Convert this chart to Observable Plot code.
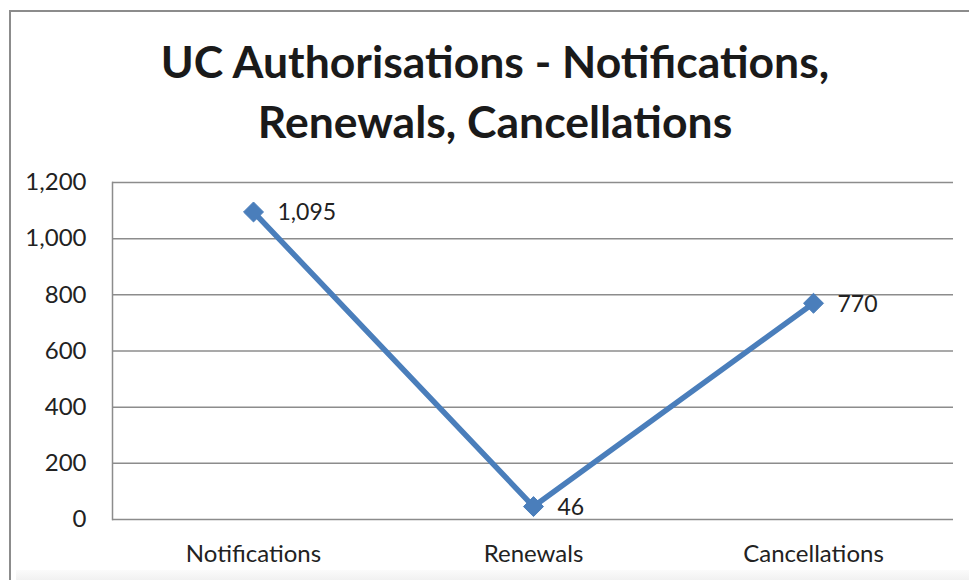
<!DOCTYPE html>
<html>
<head>
<meta charset="utf-8">
<script src="https://cdn.jsdelivr.net/npm/d3@7"></script>
<script src="https://cdn.jsdelivr.net/npm/@observablehq/plot@0.6"></script>
<style>
  body { margin: 0; background: #fff; }
  #wrap { position: relative; width: 969px; height: 580px; overflow: hidden; background: #fff; font-family: Lato, "Open Sans", sans-serif; }
  #border { position: absolute; left: 9px; top: 10px; width: 1000px; height: 600px; border-left: 2px solid #8c8c8c; border-top: 2px solid #8c8c8c; box-sizing: border-box; }
  #title { position: absolute; left: 0; top: 31px; width: 990px; text-align: center; font-weight: 700; font-size: 44.5px; line-height: 60px; color: #1a1a1a; }
  #chart { position: absolute; left: 0; top: 160px; }
  #shade { position: absolute; left: 16px; top: 570px; width: 960px; height: 10px; background: linear-gradient(#fbfbfb, #f1f1f1); }
</style>
</head>
<body>
<div id="wrap">
  <div id="border"></div>
  <div id="title">UC Authorisations - Notifications,<br>Renewals, Cancellations</div>
  <div id="chart"></div>
  <div id="shade"></div>
</div>
<script>
const categories = ["Notifications", "Renewals", "Cancellations"];
const values = [1095, 46, 770];
const yTicks = [0, 200, 400, 600, 800, 1000, 1200];

const data = categories.map((c, i) => ({category: c, value: values[i]}));
const blue = "#4a7ebb";
const fmt = d3.format(",");

const chart = Plot.plot({
  width: 969,
  height: 420,
  marginTop: 22,
  marginBottom: 61,
  marginLeft: 112,
  marginRight: 16,
  style: {fontFamily: "Lato, 'Open Sans', sans-serif", fontSize: "24px", color: "#222", background: "transparent"},
  x: {type: "point", domain: categories, padding: 0.5, label: null},
  y: {domain: [0, 1200], label: null},
  marks: [
    Plot.gridY(yTicks, {stroke: "#8c8c8c", strokeOpacity: 1, strokeWidth: 1.5}),
    Plot.frame({anchor: "left", stroke: "#8c8c8c", strokeWidth: 1.5}),
    Plot.axisY(yTicks, {tickSize: 0, tickPadding: 26, tickFormat: fmt, fontSize: 24, fill: "#222", label: null}),
    Plot.axisX({tickSize: 0, tickPadding: 25, fontSize: 24, fill: "#222", label: null}),
    Plot.line(data, {x: "category", y: "value", stroke: blue, strokeWidth: 5.5}),
    Plot.dot(data, {x: "category", y: "value", symbol: "diamond2", r: 9, fill: blue, stroke: blue, strokeWidth: 1}),
    Plot.text(data, {x: "category", y: "value", text: d => fmt(d.value), dx: 24, dy: 1, textAnchor: "start", fontSize: 23, fill: "#222"})
  ]
});
document.getElementById("chart").appendChild(chart);
</script>
</body>
</html>
